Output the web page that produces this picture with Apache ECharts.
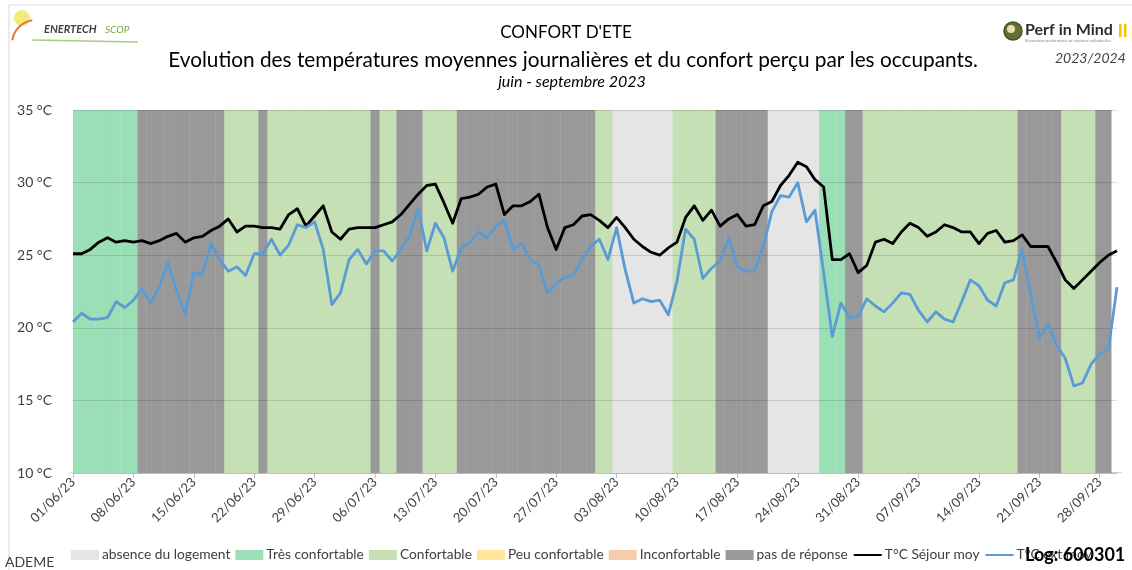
<!DOCTYPE html>
<html>
<head>
<meta charset="utf-8">
<script src="https://cdn.jsdelivr.net/npm/echarts@6/dist/echarts.min.js"></script>
<style>
html, body { margin: 0; padding: 0; background: #fff; }
#chart { width: 1132px; height: 570px; }
</style>
</head>
<body>
<div id="chart"></div>
<script>
// jours du 01/06/23 au 30/09/23
var moisJours = [[6, 30], [7, 31], [8, 31], [9, 30]];
var yTicks = [10, 15, 20, 25, 30, 35];

// T°C séjour moyenne journalière
var tSejour = [
  25.1, 25.1, 25.4, 25.9, 26.2, 25.9, 26.0, 25.9, 26.0, 25.8,
  26.0, 26.3, 26.5, 25.9, 26.2, 26.3, 26.7, 27.0, 27.5, 26.6,
  27.0, 27.0, 26.9, 26.9, 26.8, 27.8, 28.2, 27.0, 27.7, 28.4,
  26.6, 26.1, 26.8, 26.9, 26.9, 26.9, 27.1, 27.3, 27.8, 28.5,
  29.2, 29.8, 29.9, 28.6, 27.2, 28.9, 29.0, 29.2, 29.7, 29.9,
  27.8, 28.4, 28.4, 28.7, 29.2, 26.9, 25.4, 26.9, 27.1, 27.7,
  27.8, 27.4, 26.9, 27.6, 26.9, 26.1, 25.6, 25.2, 25.0, 25.5,
  25.9, 27.6, 28.4, 27.4, 28.1, 27.0, 27.5, 27.8, 27.0, 27.1,
  28.4, 28.7, 29.8, 30.5, 31.4, 31.1, 30.2, 29.7, 24.7, 24.7,
  25.1, 23.8, 24.3, 25.9, 26.1, 25.8, 26.6, 27.2, 26.9, 26.3,
  26.6, 27.1, 26.9, 26.6, 26.6, 25.8, 26.5, 26.7, 25.9, 26.0,
  26.4, 25.6, 25.6, 25.6, 24.5, 23.3, 22.7, 23.3, 23.9, 24.5,
  25.0, 25.3
];

// T°C extérieure moyenne journalière
var tExt = [
  20.4, 21.0, 20.6, 20.6, 20.7, 21.8, 21.4, 21.9, 22.7, 21.7,
  22.8, 24.5, 22.6, 20.9, 23.8, 23.7, 25.8, 24.7, 23.9, 24.2,
  23.6, 25.1, 25.1, 26.1, 25.0, 25.7, 27.1, 26.9, 27.3, 25.4,
  21.6, 22.4, 24.7, 25.4, 24.4, 25.3, 25.3, 24.6, 25.4, 26.3,
  28.2, 25.3, 27.2, 26.2, 23.9, 25.5, 25.9, 26.6, 26.2, 27.0,
  27.4, 25.4, 25.8, 24.7, 24.3, 22.4, 23.0, 23.5, 23.6, 24.7,
  25.6, 26.1, 24.7, 26.9, 24.0, 21.7, 22.0, 21.8, 21.9, 20.9,
  23.2, 26.8, 26.1, 23.4, 24.1, 24.6, 26.2, 24.2, 23.9, 23.9,
  25.6, 28.0, 29.1, 29.0, 30.0, 27.3, 28.1, 23.8, 19.4, 21.7,
  20.7, 20.8, 22.0, 21.5, 21.1, 21.7, 22.4, 22.3, 21.2, 20.4,
  21.1, 20.6, 20.4, 21.8, 23.3, 22.9, 21.9, 21.5, 23.1, 23.3,
  25.4, 22.3, 19.3, 20.3, 18.8, 17.9, 16.0, 16.2, 17.5, 18.2,
  18.5, 22.8
];

// confort perçu : [code, nombre de jours consécutifs]
// A absence, T très confortable, C confortable, P peu confortable, I inconfortable, N pas de réponse
var confortJours = [
  ['T', 8], ['N', 10], ['C', 4], ['N', 1], ['C', 12], ['N', 1], ['C', 2],
  ['N', 3], ['C', 4], ['N', 16], ['C', 2], ['A', 7], ['C', 5], ['N', 6],
  ['A', 6], ['T', 3], ['N', 2], ['C', 18], ['N', 5], ['C', 4], ['N', 3]
];

var classes = [
  { code: 'A', nom: 'absence du logement', couleur: '#e5e5e5' },
  { code: 'T', nom: 'Très confortable', couleur: '#9bdfb6' },
  { code: 'C', nom: 'Confortable', couleur: '#c5e0b4' },
  { code: 'P', nom: 'Peu confortable', couleur: '#ffe699' },
  { code: 'I', nom: 'Inconfortable', couleur: '#f8cbad' },
  { code: 'N', nom: 'pas de réponse', couleur: '#999999' }
];

function pad(n) { return (n < 10 ? '0' : '') + n; }

var dates = [];
moisJours.forEach(function (mj) {
  for (var d = 1; d <= mj[1]; d++) dates.push(pad(d) + '/' + pad(mj[0]) + '/23');
});

var confort = [];
confortJours.forEach(function (r) {
  for (var k = 0; k < r[1]; k++) confort.push(r[0]);
});

var yMin = yTicks[0], yMax = yTicks[yTicks.length - 1];
var police = 'Lato, "Liberation Sans", sans-serif';

var series = classes.map(function (c) {
  return {
    name: c.nom,
    type: 'bar',
    z: 1,
    clip: true,
    barGap: '-100%',
    barWidth: 9,
    itemStyle: { color: c.couleur },
    emphasis: { disabled: true },
    data: confort.map(function (code) { return code === c.code ? yMax : '-'; })
  };
});

series.push({
  name: 'T°C Séjour moy',
  type: 'line',
  z: 5,
  showSymbol: false,
  symbol: 'none',
  lineStyle: { color: '#000000', width: 2.8, join: 'round' },
  itemStyle: { color: '#000000' },
  data: tSejour
});
series.push({
  name: 'T°C ext moy',
  type: 'line',
  z: 5,
  showSymbol: false,
  symbol: 'none',
  lineStyle: { color: '#5b9bd5', width: 2.8, join: 'round' },
  itemStyle: { color: '#5b9bd5' },
  data: tExt
});

var myChart = echarts.init(document.getElementById('chart'));
var option = {
  animation: false,
  backgroundColor: '#ffffff',
  textStyle: { fontFamily: police },
  grid: { left: 73, right: 15, top: 110, bottom: 97, containLabel: false },
  legend: {
    left: 66,
    top: 543,
    itemWidth: 28,
    itemHeight: 10,
    itemGap: 5,
    textStyle: { fontSize: 13.8, color: '#404040', fontFamily: police, padding: [0, 0, 0, -2] },
    data: classes.map(function (c) { return { name: c.nom, icon: 'rect' }; })
      .concat([
        { name: 'T°C Séjour moy', itemStyle: { opacity: 0 } },
        { name: 'T°C ext moy', itemStyle: { opacity: 0 } }
      ])
  },
  xAxis: {
    type: 'category',
    boundaryGap: false,
    data: dates,
    axisLine: { lineStyle: { color: '#d9d9d9' } },
    axisTick: { show: true, interval: 6, length: 5, lineStyle: { color: '#bfbfbf' } },
    axisLabel: { interval: 6, rotate: 45, fontSize: 13, color: '#404040', margin: 7, fontFamily: police },
    splitLine: { show: false }
  },
  yAxis: {
    type: 'value',
    z: 3,
    min: yMin,
    max: yMax,
    interval: 5,
    axisLine: { show: false },
    axisTick: { show: false },
    axisLabel: { formatter: '{value} °C', fontSize: 14, color: '#404040', margin: 21, fontFamily: police },
    splitLine: { show: true, lineStyle: { color: 'rgba(0,0,0,0.13)', width: 1 } }
  },
  graphic: [
    { type: 'rect', shape: { x: 9, y: 5, width: 1140, height: 600 }, style: { fill: 'none', stroke: '#d9d9d9', lineWidth: 1 }, z: 0 },
    // bords de la zone de tracé : masque des demi-barres qui dépassent
    { type: 'rect', shape: { x: 56, y: 109, width: 17, height: 363.5 }, style: { fill: '#fff' }, z: 2 },
    { type: 'rect', shape: { x: 1111.5, y: 109, width: 22, height: 363.5 }, style: { fill: '#fff' }, z: 2 },
    // logo Enertech
    { type: 'circle', shape: { cx: 22, cy: 18, r: 8 }, style: { fill: '#f3ea7a' } },
    { type: 'arc', shape: { cx: 36, cy: 44, r: 24, startAngle: Math.PI * 1.05, endAngle: Math.PI * 1.45 }, style: { stroke: '#e07a3c', lineWidth: 2, fill: 'none' } },
    { type: 'line', shape: { x1: 32, y1: 40, x2: 138, y2: 42 }, style: { stroke: '#a9cf7a', lineWidth: 1.5 } },
    { type: 'text', left: 44, top: 24, style: { text: 'ENERTECH', font: 'italic bold 11px ' + police, fill: '#3f3f3f' } },
    { type: 'text', left: 105, top: 25, style: { text: 'SCOP', font: 'italic 10px ' + police, fill: '#7aa640' } },
    // titres
    { type: 'text', x: 566, y: 33, style: { text: "CONFORT D'ETE", font: '17px ' + police, fill: '#000', align: 'center', verticalAlign: 'middle' } },
    { type: 'text', x: 573, y: 60, style: { text: 'Evolution des températures moyennes journalières et du confort perçu par les occupants.', font: '20.8px ' + police, fill: '#000', align: 'center', verticalAlign: 'middle' } },
    { type: 'text', x: 572, y: 82, style: { text: 'juin - septembre 2023', font: 'italic 16px ' + police, fill: '#000', align: 'center', verticalAlign: 'middle' } },
    // logo Perf in Mind
    { type: 'circle', shape: { cx: 1013, cy: 31, r: 9 }, style: { fill: '#6b6b3a', stroke: '#3c5a2a', lineWidth: 1.5 } },
    { type: 'circle', shape: { cx: 1011, cy: 29, r: 4 }, style: { fill: '#e8e0b0' } },
    { type: 'text', left: 1025, top: 22, style: { text: 'Perf in Mind', font: 'bold 16px ' + police, fill: '#2e2e2e' } },
    { type: 'rect', shape: { x: 1119, y: 24, width: 2.5, height: 13 }, style: { fill: '#f2c500' } },
    { type: 'rect', shape: { x: 1124, y: 24, width: 2.5, height: 13 }, style: { fill: '#f2c500' } },
    { type: 'text', left: 1025, top: 39, style: { text: 'Rénovation performante de maisons individuelles', font: '4px ' + police, fill: '#888' } },
    { type: 'text', left: 1055, top: 51, style: { text: '2023/2024', font: 'italic 14px ' + police, fill: '#404040' } },
    // pied
    { type: 'text', left: 5, top: 555, style: { text: 'ADEME', font: '14px ' + police, fill: '#404040' } },
    { type: 'text', left: 1025, top: 546, z: 10, style: { text: 'Log: 600301', font: 'bold 18px ' + police, fill: '#000' } }
  ],
  series: series
};
myChart.setOption(option);
</script>
</body>
</html>
